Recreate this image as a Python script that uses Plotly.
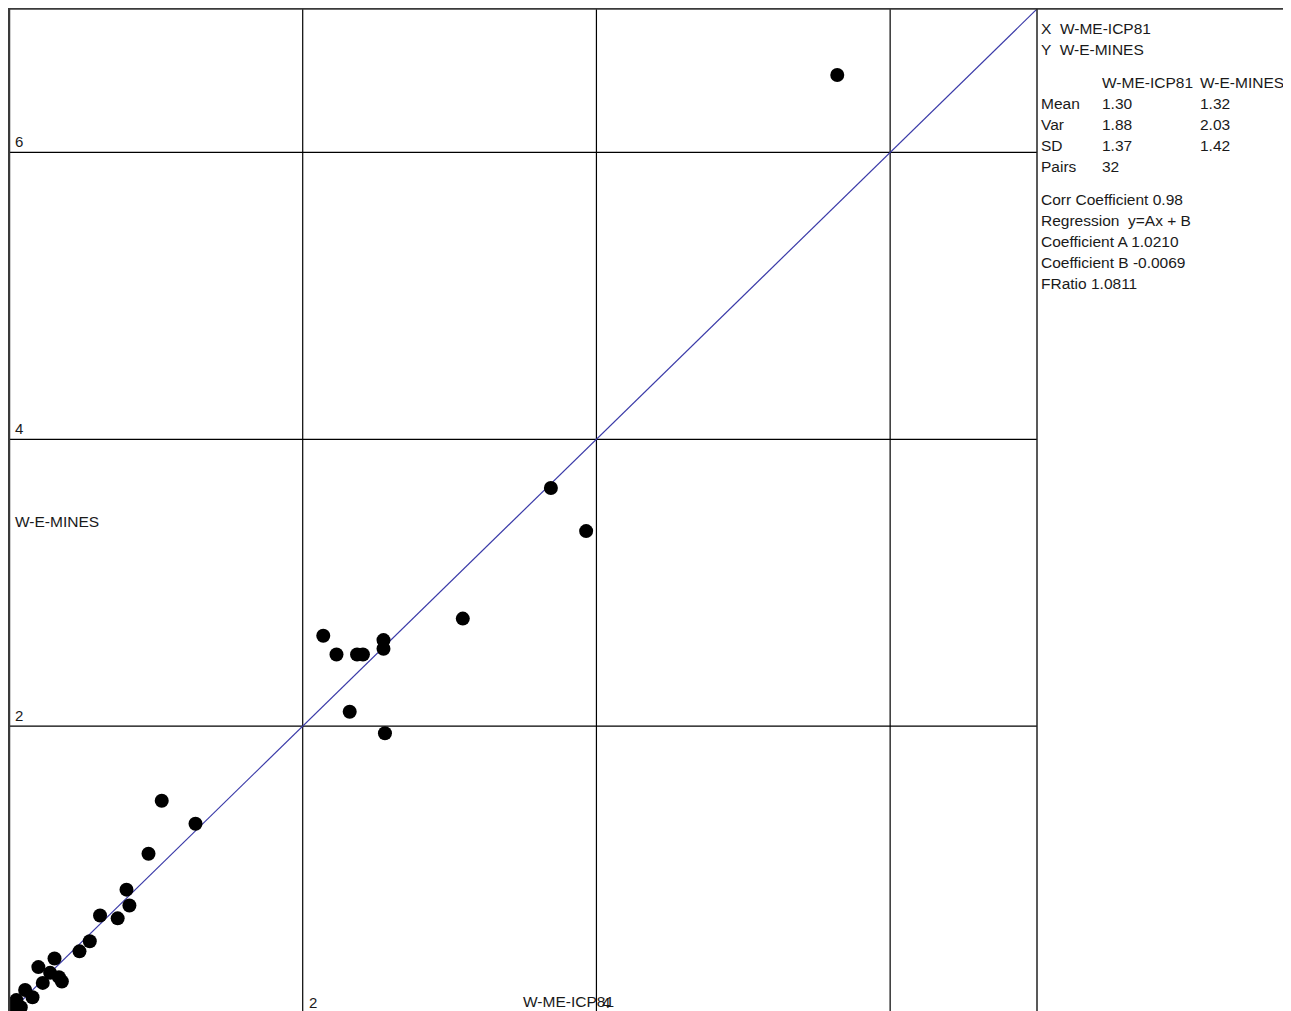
import plotly.graph_objects as go

# ---- data ----
x_vals = [5.64, 3.69, 3.93, 3.09, 2.14, 2.23, 2.37, 2.41, 2.55, 2.55, 2.32, 2.56,
          1.04, 1.27, 0.95, 0.80, 0.82, 0.62, 0.74, 0.55, 0.48, 0.31, 0.20, 0.28,
          0.36, 0.23, 0.11, 0.16, 0.05, 0.03, 0.08, 0.34]
y_vals = [6.54, 3.66, 3.36, 2.75, 2.63, 2.50, 2.50, 2.50, 2.60, 2.54, 2.10, 1.95,
          1.48, 1.32, 1.11, 0.86, 0.75, 0.68, 0.66, 0.50, 0.43, 0.38, 0.32, 0.28,
          0.22, 0.21, 0.16, 0.11, 0.09, 0.04, 0.04, 0.25]

ref_line = [0, 7]
grid_ticks = [2, 4, 6]
x_tick_labels = ["2", "4"]
y_tick_labels = ["2", "4", "6"]

x_name = "W-ME-ICP81"
y_name = "W-E-MINES"
stat_rows = ["Mean", "Var", "SD", "Pairs"]
stat_x = ["1.30", "1.88", "1.37", "32"]
stat_y = ["1.32", "2.03", "1.42", ""]
summary_lines = ["Corr Coefficient 0.98", "Regression  y=Ax + B",
                 "Coefficient A 1.0210", "Coefficient B -0.0069", "FRatio 1.0811"]

OFF = 8                      # page body margin
PW, PH = 1291, 1011          # page size
W, H = PW - OFF, PH - OFF    # figure size
L, R, T, B = 9, 1037, 9, 1011  # plot area in page pixels
FONT = "Liberation Sans, Arial, sans-serif"
TXT = "#1a1a1a"
FS = 15
FS2 = 15.5

fig = go.Figure()
fig.add_trace(go.Scatter(x=ref_line, y=ref_line, mode="lines",
                         line=dict(color="#3a3aa8", width=1.2),
                         hoverinfo="skip", showlegend=False))
fig.add_trace(go.Scatter(x=x_vals, y=y_vals, mode="markers",
                         marker=dict(color="black", size=14, line=dict(width=0)),
                         showlegend=False))

shapes = []
for g in grid_ticks:
    shapes.append(dict(type="line", xref="x", yref="paper", x0=g, x1=g, y0=0, y1=1,
                       line=dict(color="black", width=1.2), layer="below"))
    shapes.append(dict(type="line", xref="paper", yref="y", x0=0, x1=1, y0=g, y1=g,
                       line=dict(color="black", width=1.2), layer="below"))


def px(xp):
    return (xp - L) / (R - L)


def py(yp):
    return (B - yp) / (B - T)


shapes.append(dict(type="line", xref="paper", yref="paper", x0=px(8), x1=px(PW + 5), y0=py(8.5), y1=py(8.5),
                   line=dict(color="#3a3a3a", width=2.5)))
shapes.append(dict(type="line", xref="paper", yref="paper", x0=px(9), x1=px(9), y0=py(8), y1=py(1015),
                   line=dict(color="#3a3a3a", width=2.5)))
shapes.append(dict(type="line", xref="paper", yref="paper", x0=px(1037), x1=px(1037), y0=py(9), y1=py(1015),
                   line=dict(color="#222222", width=1.5)))

ann = []
for v, t in zip(grid_ticks[:2], x_tick_labels):
    ann.append(dict(x=v, y=py(1002), xref="x", yref="paper", text=t, showarrow=False,
                    xanchor="left", yanchor="middle", xshift=4,
                    font=dict(family=FONT, size=FS, color=TXT)))
for v, t in zip(grid_ticks, y_tick_labels):
    ann.append(dict(x=px(13), y=v, xref="paper", yref="y", text=t, showarrow=False,
                    xanchor="left", yanchor="bottom", yshift=0,
                    font=dict(family=FONT, size=FS, color=TXT)))
ann.append(dict(x=px(13), y=py(521), xref="paper", yref="paper", text=y_name, showarrow=False,
                xanchor="left", yanchor="middle", font=dict(family=FONT, size=FS2, color=TXT)))
ann.append(dict(x=px(521), y=py(1001), xref="paper", yref="paper", text=x_name, showarrow=False,
                xanchor="left", yanchor="middle", font=dict(family=FONT, size=FS2, color=TXT)))


def text_at(xp, yp, t):
    ann.append(dict(x=px(xp), y=py(yp), xref="paper", yref="paper", text=t, showarrow=False,
                    xanchor="left", yanchor="middle", font=dict(family=FONT, size=FS2, color=TXT)))


text_at(1039, 29, "X  " + x_name)
text_at(1039, 50, "Y  " + y_name)
text_at(1100, 82, x_name)
text_at(1198, 82, y_name)
for i, (r, a, b) in enumerate(zip(stat_rows, stat_x, stat_y)):
    yy = 103 + 21.3 * i
    text_at(1039, yy, r)
    text_at(1100, yy, a)
    if b:
        text_at(1198, yy, b)
for i, s in enumerate(summary_lines):
    text_at(1039, 199 + 21.2 * i, s)

fig.update_layout(
    width=W, height=H,
    margin=dict(l=L - OFF, r=(OFF + W) - R, t=T - OFF, b=(OFF + H) - B, pad=0),
    paper_bgcolor="white", plot_bgcolor="white",
    xaxis=dict(range=[0, 7], showgrid=False, zeroline=False, showticklabels=False, ticks=""),
    yaxis=dict(range=[0.014, 7], showgrid=False, zeroline=False, showticklabels=False, ticks=""),
    shapes=shapes, annotations=ann,
)

fig.write_html("out.html")
